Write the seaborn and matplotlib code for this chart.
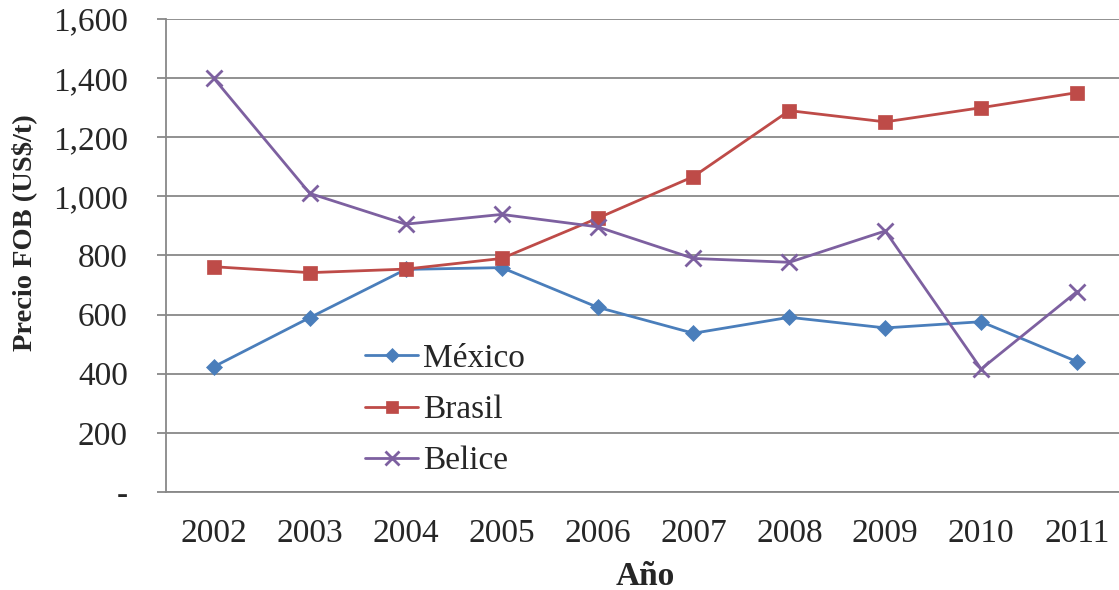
import matplotlib
matplotlib.use("Agg")
import matplotlib.pyplot as plt
from matplotlib.ticker import FuncFormatter, FixedLocator
import seaborn as sns
import pandas as pd

years = ["2002", "2003", "2004", "2005", "2006", "2007", "2008", "2009", "2010", "2011"]
mexico = [424, 590, 753, 759, 625, 537, 591, 555, 576, 441]
brasil = [762, 742, 754, 790, 926, 1067, 1290, 1252, 1300, 1351]
belice = [1399, 1010, 906, 939, 897, 790, 777, 883, 416, 678]

series_names = ["México", "Brasil", "Belice"]
series_values = [mexico, brasil, belice]
colors = ["#4A7EBB", "#BE4B48", "#7D60A0"]
markers = ["D", "s", "x"]
marker_sizes = [8.5, 10.5, 11]
legend_marker_sizes = [7, 9, 9.5]

sns.set_style("white")
plt.rcParams["font.family"] = ["Liberation Serif", "DejaVu Serif"]

df = pd.DataFrame({
    "Año": years * len(series_names),
    "Precio": [v for vals in series_values for v in vals],
    "Serie": [n for n in series_names for _ in years],
})

fig = plt.figure(figsize=(11.19, 5.90), dpi=100)
ax = fig.add_axes([166 / 1119, 1 - 492 / 590, (1125 - 166) / 1119, (492 - 19) / 590])

for name, col, mk, ms in zip(series_names, colors, markers, marker_sizes):
    sub = df[df["Serie"] == name]
    sns.lineplot(data=sub, x="Año", y="Precio", ax=ax, color=col, marker=mk,
                 markersize=ms, linewidth=2.0, markeredgewidth=2.0 if mk == "x" else 0.5,
                 markeredgecolor=col, label=name, sort=False)

grid_col = "#888888"
ax.set_ylim(0, 1600)
ax.set_xlim(-0.5, len(years) - 0.5)
ax.yaxis.set_major_locator(FixedLocator(range(0, 1601, 200)))
ax.yaxis.set_major_formatter(FuncFormatter(lambda v, p: "-" if v == 0 else f"{int(v):,}"))
ax.grid(axis="y", color=grid_col, linewidth=1.3)
ax.set_axisbelow(True)

# category ticks: labels at centres, tick marks at boundaries
ax.set_xticks(range(len(years)))
ax.set_xticklabels(years)
ax.set_xticks([i - 0.5 for i in range(len(years) + 1)], minor=True)
ax.tick_params(axis="x", which="major", length=0, pad=19, labelsize=24)
ax.tick_params(axis="x", which="minor", length=6.5, width=1.3, color=grid_col, direction="out")
ax.tick_params(axis="y", which="major", length=6.5, width=1.3, color=grid_col,
               direction="out", pad=21, labelsize=24, left=True)

for side in ["top", "right"]:
    ax.spines[side].set_visible(False)
for side in ["left", "bottom"]:
    ax.spines[side].set_color(grid_col)
    ax.spines[side].set_linewidth(1.3)

ax.set_ylabel("Precio FOB (US$/t)", fontsize=20.5, fontweight="bold")
ax.yaxis.set_label_coords(-0.1345, 0.549)
ax.set_xlabel("Año", fontsize=24, fontweight="bold")
ax.xaxis.set_label_coords(0.5, -0.145)

leg = ax.legend(loc="center left", bbox_to_anchor=(365 / 1119, 1 - 410 / 590),
                bbox_transform=fig.transFigure, frameon=False, fontsize=24,
                borderpad=0, borderaxespad=0, handlelength=1.6, handletextpad=0.15,
                labelspacing=0.62)
for h, ms in zip(leg.legend_handles, legend_marker_sizes):
    h.set_markersize(ms)

fig.savefig("out.png", dpi=100, facecolor="white")
